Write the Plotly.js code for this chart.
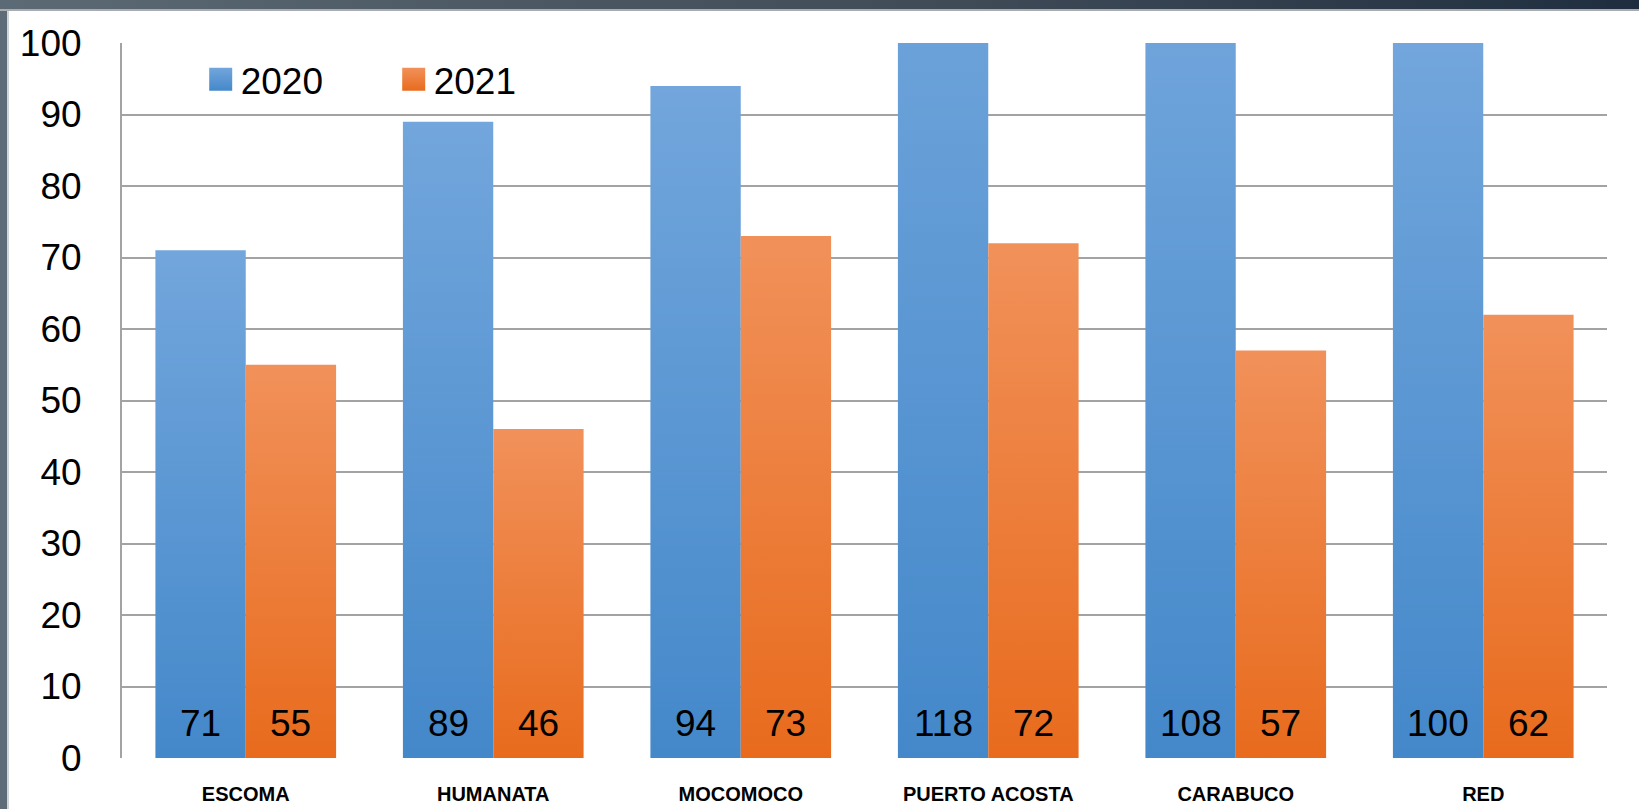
<!DOCTYPE html>
<html>
<head>
<meta charset="utf-8">
<script src="https://cdn.plot.ly/plotly-3.0.1.min.js"></script>
<style>
  html, body { margin: 0; padding: 0; background: #ffffff; overflow: hidden; }
  #chart { position: absolute; left: 0; top: 0; width: 1639px; height: 809px; }
  #topband { position: absolute; left: 0; top: 0; width: 1639px; height: 9px;
    background: linear-gradient(90deg, #5c6a75 0%, #3e4a56 60%, #1f2e3f 100%);
    border-bottom: 2px solid #a9adb0; z-index: 5; }
  #leftband { position: absolute; left: 0; top: 0; width: 7px; height: 809px;
    background: #5e6c77; border-right: 2px solid #cfd4d7; z-index: 4; }
</style>
</head>
<body>
<div id="chart"></div>
<div id="topband"></div>
<div id="leftband"></div>
<script>
const categories = ["ESCOMA", "HUMANATA", "MOCOMOCO", "PUERTO ACOSTA", "CARABUCO", "RED"];
const seriesNames = ["2020", "2021"];
const values2020 = [71, 89, 94, 118, 108, 100];
const values2021 = [55, 46, 73, 72, 57, 62];
const yTicks = [0, 10, 20, 30, 40, 50, 60, 70, 80, 90, 100];

const FONT = "Liberation Sans, Arial, sans-serif";
const BAR_GAP = 0.27;
const half = (1 - BAR_GAP) / 4;

const traces = [
  { type: "bar", name: seriesNames[0], x: categories, y: values2020,
    marker: { color: "#5b9bd5", line: { width: 0 } }, hoverinfo: "none" },
  { type: "bar", name: seriesNames[1], x: categories, y: values2021,
    marker: { color: "#ed7d31", line: { width: 0 } }, hoverinfo: "none" }
];

const annotations = [];
categories.forEach((c, i) => {
  [values2020, values2021].forEach((arr, s) => {
    annotations.push({
      x: i + (s === 0 ? -half : half), xref: "x", y: 0, yref: "y",
      text: String(arr[i]), showarrow: false, xanchor: "center", yanchor: "bottom",
      yshift: 12, font: { family: FONT, size: 37, color: "#000000" }
    });
  });
});

const layout = {
  width: 1639, height: 809,
  margin: { l: 122, r: 32, t: 43, b: 51, pad: 0 },
  paper_bgcolor: "rgba(0,0,0,0)", plot_bgcolor: "#ffffff",
  barmode: "group", bargap: BAR_GAP, bargroupgap: 0,
  showlegend: true,
  legend: { orientation: "h", x: 0.053, y: 0.992, xanchor: "left", yanchor: "top",
    font: { family: FONT, size: 37, color: "#000000" }, bgcolor: "rgba(0,0,0,0)",
    entrywidth: 148, entrywidthmode: "pixels", traceorder: "normal" },
  xaxis: { type: "category", showgrid: false, showline: false, ticks: "",
    tickfont: { family: FONT, size: 20, color: "#000000", weight: "bold" },
    ticklabelstandoff: 22, zeroline: false, fixedrange: true },
  yaxis: { range: [0, 100], tickvals: yTicks, ticktext: yTicks.map(String),
    showgrid: true, gridcolor: "#a3a3a3", gridwidth: 2,
    showline: true, linecolor: "#a3a3a3", linewidth: 2, ticks: "", zeroline: false,
    tickfont: { family: FONT, size: 37, color: "#000000" },
    ticklabelstandoff: 31, fixedrange: true },
  annotations: annotations
};

Plotly.newPlot("chart", traces, layout, { staticPlot: true, displayModeBar: false }).then(gd => {
  const svg = gd.querySelector(".main-svg");
  const ns = "http://www.w3.org/2000/svg";
  let defs = svg.querySelector("defs");
  if (!defs) { defs = document.createElementNS(ns, "defs"); svg.insertBefore(defs, svg.firstChild); }
  function grad(id, top, bottom) {
    const g = document.createElementNS(ns, "linearGradient");
    g.setAttribute("id", id); g.setAttribute("x1", "0"); g.setAttribute("y1", "0");
    g.setAttribute("x2", "0"); g.setAttribute("y2", "1");
    [[0, top], [1, bottom]].forEach(([o, c]) => {
      const s = document.createElementNS(ns, "stop");
      s.setAttribute("offset", o); s.setAttribute("stop-color", c); g.appendChild(s);
    });
    defs.appendChild(g);
  }
  grad("gBlue", "#72a6dc", "#4488ca");
  grad("gOrange", "#f1915a", "#e86b1d");
  const fills = ["url(#gBlue)", "url(#gOrange)"];
  gd.querySelectorAll(".barlayer .trace").forEach((t, i) => {
    t.querySelectorAll("path").forEach(p => { p.style.fill = fills[i]; });
  });
  gd.querySelectorAll(".legend .traces").forEach((t, i) => {
    t.querySelectorAll(".legendpoints path").forEach(p => {
      p.setAttribute("d", "M11.5,11.5H-11.5V-11.5H11.5Z");
      p.style.fill = fills[i]; p.style.stroke = "none";
    });
  });
});
</script>
</body>
</html>
